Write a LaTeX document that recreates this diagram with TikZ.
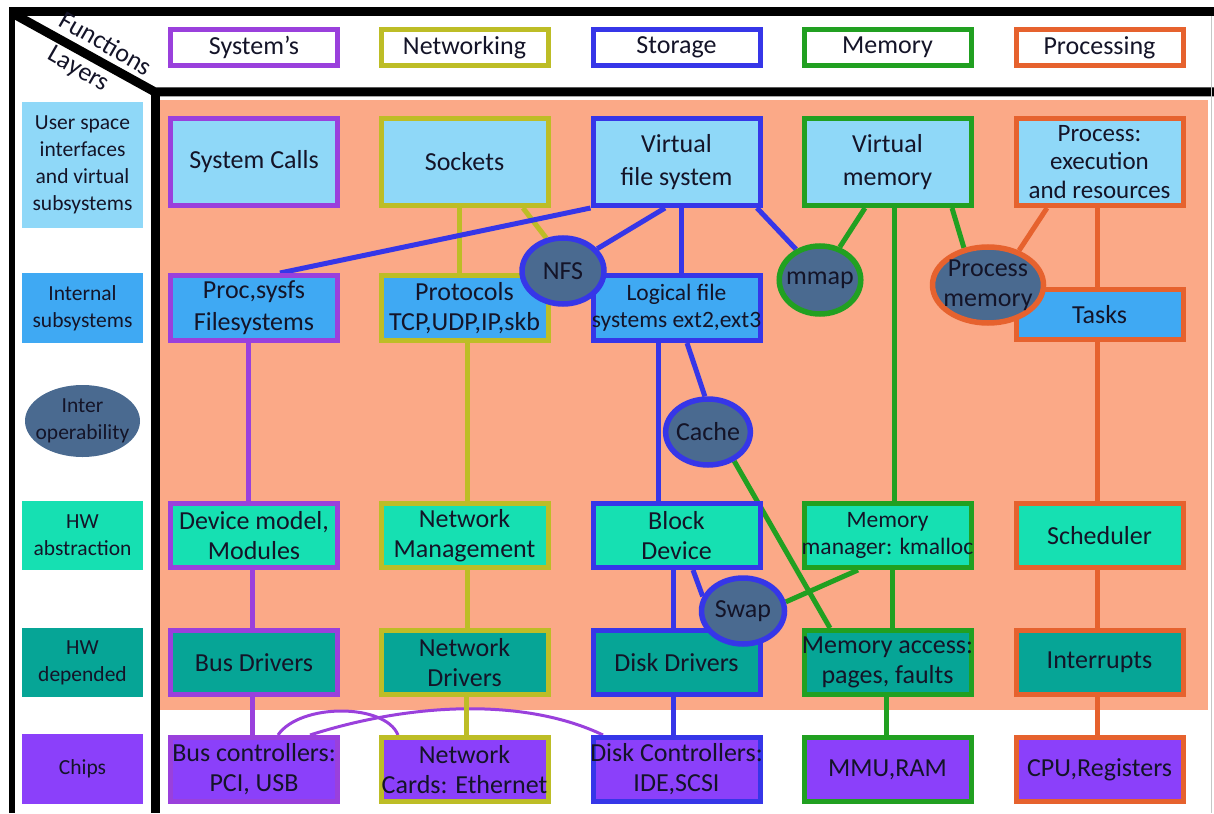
\documentclass[tikz,border=0pt]{standalone}
\usepackage{fontspec}
\setmainfont{Carlito}
\usetikzlibrary{shapes.geometric}
\definecolor{cP}{HTML}{9A40DC}
\definecolor{cO}{HTML}{BDBD26}
\definecolor{cB}{HTML}{3636E8}
\definecolor{cG}{HTML}{21A021}
\definecolor{cR}{HTML}{E6622E}
\definecolor{bgO}{HTML}{FBA987}
\definecolor{fLB}{HTML}{8FD8F8}
\definecolor{fMB}{HTML}{3FA9F3}
\definecolor{fSl}{HTML}{4A6A90}
\definecolor{fHA}{HTML}{16E0B2}
\definecolor{fHD}{HTML}{06A596}
\definecolor{fCh}{HTML}{8B40FA}
\definecolor{txt}{HTML}{141428}
\pgfdeclarelayer{back}\pgfdeclarelayer{lines}\pgfsetlayers{back,lines,main}
\newcommand\fA{\fontsize{26}{30}\selectfont}
\newcommand\fB{\fontsize{23.5}{27}\selectfont}
\newcommand\fC{\fontsize{21.5}{27}\selectfont}
\begin{document}
\begin{tikzpicture}[x=1pt,y=1pt,
 box/.style={draw, line width=5pt, minimum width=167pt, inner xsep=-3pt, inner ysep=1pt, align=center, font=\fA, text=txt},
 hdr/.style={box, fill=white, minimum height=36pt},
 rA/.style={box, fill=fLB, minimum height=87pt},
 rB/.style={box, fill=fMB, minimum height=65pt},
 rD/.style={box, fill=fHA, minimum height=64pt},
 rE/.style={box, fill=fHD, minimum height=64pt},
 rF/.style={box, fill=fCh, minimum height=64pt},
 ell/.style={ellipse, draw, line width=5.5pt, fill=fSl, inner xsep=-2pt, inner ysep=0pt, align=center, font=\fA, text=txt},
 lab/.style={minimum width=121pt, inner sep=0pt, align=center, font=\fC, text=txt},
 conn/.style={line width=5pt},
 curveP/.style={line width=3pt, cP},
 blk/.style={line width=9pt, black}
]
\useasboundingbox (0,0) rectangle (1214,-813);
\begin{pgfonlayer}{back}
\fill[bgO] (160,-100) rectangle (1208,-710);
\end{pgfonlayer}
% frame
\draw[blk, line width=9pt] (9,-12) -- (1214,-12);
\draw[blk, line width=6pt] (12,-8) -- (12,-813);
\draw[blk, line join=miter] (12,-13) -- (155,-92) -- (1214,-92);
\draw[blk] (155,-92) -- (155,-813);
\draw[gray!45, line width=1pt] (1211,-16) -- (1211,-813);
\node[rotate=-30, font=\fA, text=txt, inner sep=0pt] (tf) at (106,-43) {Functions};
\node[rotate=-30, font=\fA, text=txt, inner sep=0pt] (tl) at (78,-70) {Layers};
% left labels
\node[lab, fill=fLB, minimum height=126pt] (lus) at (82.5,-165) {User space\\interfaces\\and virtual\\subsystems};
\node[lab, fill=fMB, minimum height=70pt] (lin) at (82.5,-308) {Internal\\subsystems};
\node[lab, ellipse, fill=fSl, minimum width=115pt, minimum height=72pt, inner xsep=-8pt] (lio) at (82.5,-421) {Inter\\operability};
\node[lab, fill=fHA, minimum height=69pt] (lha) at (82.5,-535.5) {HW\\abstraction};
\node[lab, fill=fHD, minimum height=69pt] (lhd) at (82.5,-662.5) {HW\\depended};
\node[lab, fill=fCh, minimum height=70pt] (lch) at (82.5,-769) {Chips};
% headers
\node[hdr, draw=cP] (hsys) at (254,-47.5) {System's};
\node[hdr, draw=cO] (hnet) at (464.5,-47.5) {Networking};
\node[hdr, draw=cB] (hsto) at (676.5,-47.5) {Storage};
\node[hdr, draw=cG] (hmem) at (887.5,-47.5) {Memory};
\node[hdr, draw=cR] (hpro) at (1099.5,-47.5) {Processing};
% row 1
\node[rA, draw=cP] (sc) at (254,-162) {System Calls};
\node[rA, draw=cO] (sock) at (464.5,-162) {Sockets};
\node[rA, draw=cB, font=\fontsize{26}{33}\selectfont] (vfs) at (676.5,-162) {Virtual\\file system};
\node[rA, draw=cG, font=\fontsize{26}{33}\selectfont] (vm) at (887.5,-162) {Virtual\\memory};
\node[rA, draw=cR, font=\fontsize{25}{28.5}\selectfont] (pe) at (1099.5,-162) {Process:\\execution\\and resources};
% row 2
\node[rB, draw=cP, font=\fontsize{26}{32}\selectfont] (proc) at (254,-308) {Proc,sysfs\\Filesystems};
\node[rB, draw=cO] (proto) at (464.5,-308) {Protocols\\TCP,UDP,IP,skb};
\node[rB, draw=cB, font=\fB] (lfs) at (676.5,-308) {Logical file\\systems ext2,ext3};
\node[rB, draw=cR, minimum height=50pt] (tasks) at (1099.5,-314.5) {Tasks};
% row 4
\node[rD, draw=cP] (dm) at (254,-535.5) {Device model,\\Modules};
\node[rD, draw=cO] (nm) at (464.5,-535.5) {Network\\Management};
\node[rD, draw=cB] (bd) at (676.5,-535.5) {Block\\Device};
\node[rD, draw=cG, font=\fB] (mm) at (887.5,-535.5) {Memory\\manager: kmalloc};
\node[rD, draw=cR] (sch) at (1099.5,-535.5) {Scheduler};
% row 5
\node[rE, draw=cP] (bdrv) at (254,-662.5) {Bus Drivers};
\node[rE, draw=cO] (ndrv) at (464.5,-662.5) {Network\\Drivers};
\node[rE, draw=cB] (ddrv) at (676.5,-662.5) {Disk Drivers};
\node[rE, draw=cG] (ma) at (887.5,-662.5) {Memory access:\\pages, faults};
\node[rE, draw=cR] (intr) at (1099.5,-662.5) {Interrupts};
% row 6
\node[rF, draw=cP] (bc) at (254,-769.5) {Bus controllers:\\PCI, USB};
\node[rF, draw=cO] (nc) at (464.5,-769.5) {Network\\Cards: Ethernet};
\node[rF, draw=cB] (dc) at (676.5,-769.5) {Disk Controllers:\\IDE,SCSI};
\node[rF, draw=cG] (mmu) at (887.5,-769.5) {MMU,RAM};
\node[rF, draw=cR] (cpu) at (1099.5,-769.5) {CPU,Registers};
% ellipses
\node[ell, draw=cB, minimum width=82pt, minimum height=66pt] (nfs) at (563,-271) {NFS};
\node[ell, draw=cG, minimum width=80pt, minimum height=68pt, inner xsep=-5pt] (mmap) at (820,-280) {mmap};
\node[ell, draw=cR, minimum width=111pt, minimum height=76pt, inner xsep=-6pt, inner ysep=-2pt] (pm) at (988,-285) {Process\\memory};
\node[ell, draw=cB, minimum width=84pt, minimum height=66pt] (cache) at (708,-432) {Cache};
\node[ell, draw=cB, minimum width=83pt, minimum height=66pt] (swap) at (743,-611) {Swap};
% connectors
\begin{pgfonlayer}{lines}
% systems (purple)
\draw[conn, cP] (proc.south -| 248,0) -- (dm.north -| 248,0);
\draw[conn, cP] (dm.south -| 252,0) -- (bdrv.north -| 252,0);
\draw[conn, cP] (bdrv.south -| 252,0) -- (bc.north -| 252,0);
\draw[curveP] (bc.north -| 278,0) .. controls (300,-703) and (385,-703) .. (nc.north -| 398,0);
\draw[curveP] (bc.north -| 310,0) .. controls (420,-700) and (530,-700) .. (dc.north -| 603,0);
% networking (olive)
\draw[conn, cO] (sock.south -| 459,0) -- (proto.north -| 459,0);
\draw[conn, cO] (sock.south -| 523,0) -- (nfs.117);
\draw[conn, cO] (proto.south -| 467,0) -- (nm.north -| 467,0);
\draw[conn, cO] (nm.south -| 467,0) -- (ndrv.north -| 467,0);
\draw[conn, cO] (ndrv.south -| 466,0) -- (nc.north -| 466,0);
% storage (blue)
\draw[conn, cB] (vfs.south west) -- (proc.north -| 280,0);
\draw[conn, cB] (vfs.south -| 665,0) -- (nfs.33);
\draw[conn, cB] (vfs.south -| 681,0) -- (lfs.north -| 681,0);
\draw[conn, cB] (vfs.south -| 757,0) -- (mmap.128);
\draw[conn, cB] (lfs.south -| 658,0) -- (bd.north -| 658,0);
\draw[conn, cB] (lfs.south -| 687,0) -- (cache.95);
\draw[conn, cB] (bd.south -| 673,0) -- (ddrv.north -| 673,0);
\draw[conn, cB] (bd.south -| 693,0) -- (swap.160);
\draw[conn, cB] (ddrv.south -| 673,0) -- (dc.north -| 673,0);
% memory (green)
\draw[conn, cG] (vm.south -| 865,0) -- (mmap.59);
\draw[conn, cG] (vm.south -| 894,0) -- (mm.north -| 894,0);
\draw[conn, cG] (vm.south -| 952,0) -- (pm.123);
\draw[conn, cG] (cache.-48) -- (ma.north -| 830,0);
\draw[conn, cG] (mm.south -| 858,0) -- (swap.12);
\draw[conn, cG] (mm.south -| 892,0) -- (ma.north -| 892,0);
\draw[conn, cG] (ma.south -| 886,0) -- (mmu.north -| 886,0);
% processing (orange)
\draw[conn, cR] (pe.south -| 1047,0) -- (pm.48);
\draw[conn, cR] (pe.south -| 1097,0) -- (tasks.north -| 1097,0);
\draw[conn, cR] (tasks.south -| 1097,0) -- (sch.north -| 1097,0);
\draw[conn, cR] (sch.south -| 1097,0) -- (intr.north -| 1097,0);
\draw[conn, cR] (intr.south -| 1097,0) -- (cpu.north -| 1097,0);
\end{pgfonlayer}
\end{tikzpicture}
\end{document}
